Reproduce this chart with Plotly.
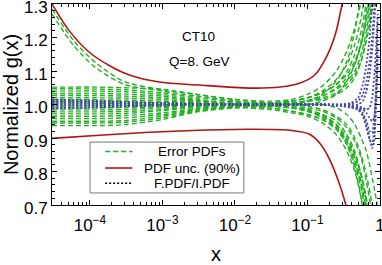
import plotly.graph_objects as go

# ---------------- data ----------------
red_x = [3e-5, 5.1e-5, 9.8e-5, 1.9e-4, 3.5e-4, 9e-4, 3.2e-3, 0.016, 0.042, 0.079, 0.126, 0.174, 0.24, 0.3]
red_up = [1.300, 1.222, 1.156, 1.115, 1.088, 1.067, 1.058, 1.049, 1.052, 1.064, 1.088, 1.133, 1.207, 1.300]
red_lo_x = [3e-5, 1.35e-4, 6.6e-4, 3.2e-3, 0.016, 0.058, 0.107, 0.148, 0.204, 0.28, 0.34]
red_lo = [0.899, 0.908, 0.917, 0.923, 0.926, 0.923, 0.911, 0.884, 0.834, 0.759, 0.699]

gx = [3e-5, 6e-5, 1.2e-4, 3e-4, 1e-3, 3e-3, 0.01, 0.03, 0.06, 0.1, 0.16, 0.25, 0.35, 0.45, 0.55, 0.65, 0.75, 0.85, 0.95]
e1 = [1.285, 1.19, 1.125, 1.068, 1.045, 1.03, 1.015, 1.005, 1.0, 1.01, 1.03, 1.07, 1.13, 1.22, 1.34, 1.5, 1.7, 1.8, 1.9]
e2 = [1.27, 1.175, 1.11, 1.06, 1.04, 1.025, 1.01, 1.0, 0.99, 0.98, 0.96, 0.93, 0.88, 0.81, 0.72, 0.6, 0.45, 0.3, 0.2]
e3 = [1.052, 1.052, 1.052, 1.05, 1.045, 1.03, 1.015, 1.01, 1.015, 1.03, 1.055, 1.1, 1.16, 1.23, 1.31, 1.42, 1.55, 1.7, 1.8]
e4 = [1.047, 1.047, 1.046, 1.044, 1.035, 1.02, 1.008, 1.005, 1.01, 1.02, 1.035, 1.06, 1.1, 1.15, 1.22, 1.31, 1.42, 1.55, 1.7]
e5 = [1.040, 1.040, 1.040, 1.038, 1.03, 1.015, 1.0, 0.99, 0.98, 0.97, 0.955, 0.93, 0.89, 0.84, 0.77, 0.68, 0.57, 0.45, 0.3]
e6 = [1.033, 1.033, 1.033, 1.031, 1.025, 1.012, 1.005, 1.002, 1.0, 1.0, 1.01, 1.03, 1.07, 1.12, 1.19, 1.28, 1.4, 1.55, 1.7]
e7 = [1.027, 1.027, 1.027, 1.025, 1.02, 1.01, 1.0, 0.995, 0.99, 0.985, 0.97, 0.95, 0.91, 0.86, 0.79, 0.71, 0.62, 0.5, 0.35]
e8 = [1.020, 1.020, 1.020, 1.019, 1.015, 1.008, 1.003, 1.005, 1.01, 1.02, 1.035, 1.06, 1.09, 1.13, 1.18, 1.25, 1.33, 1.45, 1.6]
e9 = [1.014, 1.014, 1.014, 1.013, 1.01, 1.005, 1.0, 0.998, 0.995, 0.99, 0.98, 0.96, 0.93, 0.89, 0.84, 0.77, 0.69, 0.58, 0.45]
e10 = [1.008, 1.008, 1.008, 1.008, 1.006, 1.003, 1.0, 1.002, 1.005, 1.01, 1.015, 1.03, 1.05, 1.08, 1.13, 1.2, 1.29, 1.4, 1.55]
e11 = [1.002, 1.002, 1.002, 1.002, 1.0, 0.998, 0.995, 0.995, 1.0, 1.01, 1.025, 1.05, 1.08, 1.12, 1.18, 1.26, 1.36, 1.48, 1.6]
e12 = [0.996, 0.996, 0.996, 0.996, 0.997, 0.998, 1.0, 1.0, 0.995, 0.985, 0.97, 0.94, 0.9, 0.85, 0.79, 0.71, 0.62, 0.5, 0.4]
e13 = [0.990, 0.990, 0.990, 0.991, 0.993, 0.996, 0.998, 1.0, 1.005, 1.012, 1.025, 1.045, 1.07, 1.1, 1.15, 1.22, 1.31, 1.42, 1.55]
e14 = [0.984, 0.984, 0.984, 0.985, 0.99, 0.995, 0.998, 0.995, 0.99, 0.98, 0.965, 0.935, 0.89, 0.83, 0.76, 0.68, 0.58, 0.47, 0.35]
e15 = [0.978, 0.978, 0.978, 0.979, 0.985, 0.993, 0.998, 1.0, 1.0, 0.995, 0.985, 0.965, 0.94, 0.9, 0.85, 0.79, 0.72, 0.64, 0.55]
e16 = [0.972, 0.972, 0.972, 0.973, 0.982, 0.992, 0.997, 1.0, 1.005, 1.01, 1.02, 1.035, 1.06, 1.09, 1.13, 1.19, 1.26, 1.35, 1.45]
e17 = [0.965, 0.965, 0.965, 0.967, 0.975, 0.988, 0.995, 0.99, 0.98, 0.97, 0.955, 0.925, 0.88, 0.82, 0.75, 0.66, 0.56, 0.45, 0.35]
e18 = [0.958, 0.958, 0.958, 0.96, 0.97, 0.985, 0.993, 1.0, 1.01, 1.02, 1.04, 1.075, 1.12, 1.18, 1.26, 1.36, 1.48, 1.6, 1.7]
e19 = [0.950, 0.950, 0.950, 0.952, 0.965, 0.983, 0.992, 0.995, 0.99, 0.98, 0.965, 0.94, 0.9, 0.85, 0.79, 0.72, 0.63, 0.52, 0.4]
e20 = [0.945, 0.945, 0.945, 0.947, 0.96, 0.98, 0.99, 0.985, 0.975, 0.965, 0.945, 0.91, 0.86, 0.8, 0.72, 0.63, 0.53, 0.42, 0.3]
e21 = [0.937, 0.937, 0.937, 0.94, 0.955, 0.978, 0.99, 0.995, 1.0, 1.0, 1.0, 0.99, 0.97, 0.94, 0.9, 0.86, 0.8, 0.74, 0.68]
error_pdfs = [e1, e2, e3, e4, e5, e6, e7, e8, e9, e10, e11, e12, e13, e14, e15, e16, e17, e18, e19, e20, e21]

bx = [3e-5, 1e-4, 3e-4, 1e-3, 3e-3, 0.01, 0.03, 0.1, 0.2, 0.3, 0.4, 0.5, 0.58, 0.65, 0.72, 0.78, 0.83, 0.88, 0.93]
b1 = [1.012, 1.01, 1.007, 1.004, 1.002, 1.0, 1.0, 1.0, 0.998, 0.996, 0.994, 0.99, 0.975, 0.95, 0.92, 0.915, 0.95, 1.05, 1.25]
b2 = [0.99, 0.992, 0.995, 0.998, 1.0, 1.0, 1.0, 1.0, 0.998, 0.995, 0.99, 0.985, 0.965, 0.93, 0.895, 0.88, 0.92, 1.02, 1.2]
b3 = [1.005, 1.005, 1.004, 1.002, 1.001, 1.0, 1.0, 1.0, 1.0, 1.0, 1.002, 1.01, 1.03, 1.07, 1.13, 1.2, 1.28, 1.38, 1.5]
b4 = [0.996, 0.997, 0.998, 0.999, 1.0, 1.0, 1.0, 1.0, 1.0, 1.0, 1.005, 1.02, 1.06, 1.12, 1.2, 1.3, 1.4, 1.5, 1.6]
b5 = [1.015, 1.012, 1.008, 1.004, 1.002, 1.0, 1.0, 1.0, 0.999, 0.997, 0.994, 0.985, 0.97, 0.94, 0.9, 0.87, 0.89, 0.98, 1.15]
b6 = [0.988, 0.99, 0.994, 0.997, 0.999, 1.0, 1.0, 1.0, 0.999, 0.998, 0.997, 1.0, 1.01, 1.04, 1.09, 1.16, 1.24, 1.33, 1.45]
b7 = [1.0, 1.0, 1.0, 1.0, 1.0, 1.0, 1.0, 1.0, 0.999, 0.997, 0.995, 0.99, 0.985, 0.975, 0.96, 0.95, 0.96, 1.02, 1.12]
b8 = [1.008, 1.006, 1.004, 1.002, 1.001, 1.0, 1.0, 1.0, 1.0, 0.999, 0.998, 0.995, 0.99, 0.985, 0.99, 1.02, 1.08, 1.16, 1.27]
ratio_pdfs = [b1, b2, b3, b4, b5, b6, b7, b8]

x_tickvals = [1e-4, 1e-3, 1e-2, 1e-1, 1]
x_ticktext = ["10<sup>\u22124</sup>", "10<sup>\u22123</sup>", "10<sup>\u22122</sup>", "10<sup>\u22121</sup>", "1"]
y_tickvals = [0.7, 0.8, 0.9, 1.0, 1.1, 1.2, 1.3]
legend_labels = ["Error PDFs", "PDF unc. (90%)", "F.PDF/I.PDF"]

# ---------------- styles ----------------
GREEN = "#22b022"
RED = "#b01414"
BLUE = "#4848a8"
FONT = "Liberation Sans, Arial, sans-serif"

fig = go.Figure()

for ys in error_pdfs:
    fig.add_trace(go.Scatter(x=gx, y=ys, mode="lines", showlegend=False, hoverinfo="skip",
                             line=dict(color=GREEN, width=1.4, dash="5px,3px", shape="spline", smoothing=0.8)))
for ys in ratio_pdfs:
    fig.add_trace(go.Scatter(x=bx, y=ys, mode="lines", showlegend=False, hoverinfo="skip",
                             line=dict(color=BLUE, width=1.8, dash="2px,2px", shape="spline", smoothing=0.5)))

fig.add_trace(go.Scatter(x=red_x, y=red_up, mode="lines", showlegend=False, hoverinfo="skip",
                         line=dict(color=RED, width=1.6, shape="spline", smoothing=0.8)))
fig.add_trace(go.Scatter(x=red_lo_x, y=red_lo, mode="lines", showlegend=False, hoverinfo="skip",
                         line=dict(color=RED, width=1.6, shape="spline", smoothing=0.8)))

# legend box (drawn in paper coordinates)
fig.add_shape(type="rect", xref="paper", yref="paper", x0=0.116, x1=0.585, y0=0.060, y1=0.313,
              line=dict(color="#777777", width=1), fillcolor="white", layer="above")
legend_styles = [dict(color=GREEN, width=1.4, dash="5px,3px"),
                 dict(color=RED, width=1.6),
                 dict(color="black", width=1.4, dash="2px,2px")]
legend_rows = [0.266, 0.184, 0.108]
for lab, sty, yy in zip(legend_labels, legend_styles, legend_rows):
    fig.add_shape(type="line", xref="paper", yref="paper", x0=0.162, x1=0.245, y0=yy, y1=yy,
                  line=sty, layer="above")
    fig.add_annotation(x=0.427, y=yy, xref="paper", yref="paper", text=lab, showarrow=False,
                       xanchor="center", yanchor="middle",
                       font=dict(size=13.5, color="black", family=FONT))

fig.add_annotation(x=0.448, y=0.885, xref="paper", yref="paper", text="CT10", showarrow=False,
                   font=dict(size=13.5, color="black", family=FONT))
fig.add_annotation(x=0.448, y=0.761, xref="paper", yref="paper", text="Q=8. GeV", showarrow=False,
                   font=dict(size=13.5, color="black", family=FONT))

minor_x = [m * 10 ** e for e in range(-5, 0) for m in range(2, 10)]

fig.update_layout(
    width=382, height=265,
    margin=dict(l=52, r=2, t=4, b=60),
    paper_bgcolor="white", plot_bgcolor="white",
    font=dict(family=FONT, color="black"),
    showlegend=False,
    xaxis=dict(type="log", range=[-4.523, 0], tickvals=x_tickvals, ticktext=x_ticktext,
               ticks="inside", ticklen=5, tickcolor="black", showline=True, linecolor="black",
               linewidth=1, mirror="allticks", showgrid=False, zeroline=False,
               tickfont=dict(size=17, family=FONT), ticklabeloverflow="allow", automargin=False,
               ticklabelstandoff=5,
               minor=dict(tickvals=minor_x, ticks="inside", ticklen=3, tickcolor="black", showgrid=False),
               title=dict(text="x", font=dict(size=20, family=FONT), standoff=20)),
    yaxis=dict(range=[0.7, 1.3], tickvals=y_tickvals, tickformat=".1f",
               ticks="inside", ticklen=5, tickcolor="black", showline=True, linecolor="black",
               linewidth=1, mirror="allticks", showgrid=False, zeroline=False,
               tickfont=dict(size=17, family=FONT), ticklabeloverflow="allow", automargin=False,
               ticklabelshift=3,
               minor=dict(dtick=0.02, ticks="inside", ticklen=3, tickcolor="black", showgrid=False),
               title=dict(text="Normalized g(x)", font=dict(size=20, family=FONT), standoff=10)),
)

fig.write_html("out.html", config={"displayModeBar": False, "staticPlot": True},
               post_script="document.body.style.margin='0';document.body.style.padding='0';"
                           "document.body.style.overflow='hidden';")
